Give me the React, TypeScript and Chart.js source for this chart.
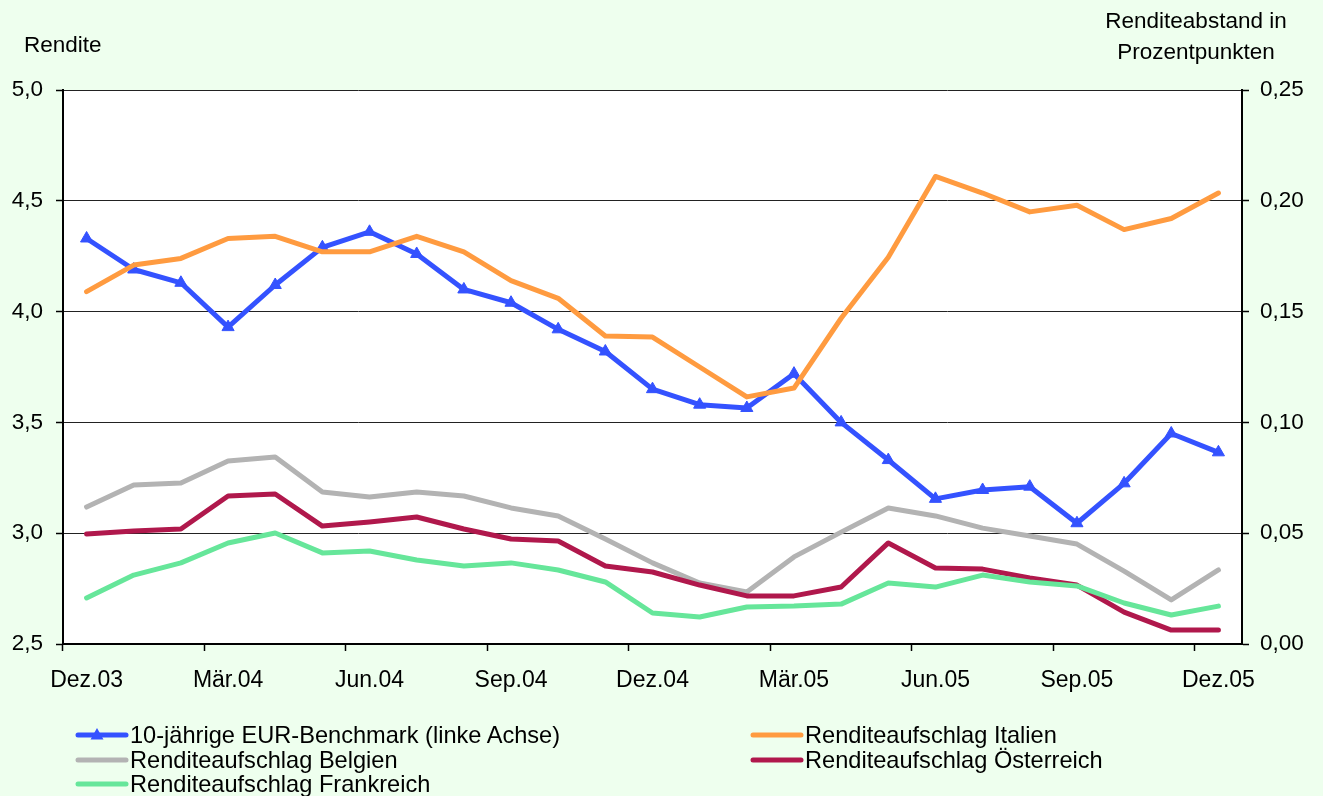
import React, { useEffect, useRef } from 'react';
import { Chart, registerables } from 'chart.js';

Chart.register(...registerables);

const months = [
  'Dez.03', 'Jan.04', 'Feb.04', 'Mär.04', 'Apr.04', 'Mai.04', 'Jun.04', 'Jul.04', 'Aug.04',
  'Sep.04', 'Okt.04', 'Nov.04', 'Dez.04', 'Jan.05', 'Feb.05', 'Mär.05', 'Apr.05', 'Mai.05',
  'Jun.05', 'Jul.05', 'Aug.05', 'Sep.05', 'Okt.05', 'Nov.05', 'Dez.05',
];

const benchmark = [
  4.33, 4.19, 4.13, 3.93, 4.12, 4.29, 4.36, 4.26, 4.10, 4.04, 3.92, 3.82, 3.65,
  3.58, 3.565, 3.72, 3.50, 3.33, 3.155, 3.195, 3.21, 3.045, 3.225, 3.45, 3.365,
];
const italien = [
  0.159, 0.171, 0.174, 0.183, 0.184, 0.177, 0.177, 0.184, 0.177, 0.164, 0.156, 0.139, 0.1385,
  0.125, 0.1115, 0.1155, 0.147, 0.1745, 0.211, 0.2035, 0.195, 0.198, 0.187, 0.192, 0.2035,
];
const belgien = [
  0.0618, 0.0718, 0.0727, 0.0826, 0.0844, 0.0686, 0.0663, 0.0686, 0.0668, 0.0614, 0.0578, 0.0474, 0.0366,
  0.0275, 0.0235, 0.0393, 0.0505, 0.0614, 0.0578, 0.0523, 0.0487, 0.0451, 0.0329, 0.0199, 0.0334,
];
const oesterreich = [
  0.0496, 0.051, 0.0519, 0.0668, 0.0677, 0.0532, 0.0551, 0.0573, 0.0519, 0.0474, 0.0465, 0.0352, 0.0325,
  0.0266, 0.0217, 0.0217, 0.0257, 0.0456, 0.0343, 0.0338, 0.0298, 0.0266, 0.0144, 0.0063, 0.0063,
];
const frankreich = [
  0.0208, 0.0311, 0.0366, 0.0456, 0.0501, 0.0411, 0.042, 0.0379, 0.0352, 0.0366, 0.0334, 0.028, 0.014,
  0.0122, 0.0167, 0.0171, 0.018, 0.0275, 0.0257, 0.0311, 0.028, 0.0262, 0.0185, 0.0131, 0.0171,
];

const seriesNames = [
  '10-jährige EUR-Benchmark (linke Achse)',
  'Renditeaufschlag Italien',
  'Renditeaufschlag Belgien',
  'Renditeaufschlag Österreich',
  'Renditeaufschlag Frankreich',
];

const leftAxisTitle = 'Rendite';
const rightAxisTitle = ['Renditeabstand in', 'Prozentpunkten'];

const BLUE = '#3452ff';
const ORANGE = '#ff9b40';
const GRAY = '#b3b3b3';
const RED = '#b0184c';
const GREEN = '#66e69a';
const BG = '#eeffee';
const FONT = '"Liberation Sans", Arial, sans-serif';
const FS = 22.5;
const LEGEND_FS = 23.6;

const whiteArea = {
  id: 'whiteArea',
  beforeDraw(chart: any) {
    const { ctx, chartArea } = chart;
    ctx.save();
    ctx.fillStyle = '#ffffff';
    ctx.fillRect(chartArea.left, chartArea.top, chartArea.right - chartArea.left, chartArea.bottom - chartArea.top);
    ctx.restore();
  },
};

function LegendItem(props: { label: string; color: string; marker?: boolean; x: number; y: number }) {
  const { label, color, marker, x, y } = props;
  return (
    <>
      <svg
        width={54}
        height={18}
        style={{ position: 'absolute', left: x - 2, top: y - 9 }}
      >
        <line x1={3} y1={9} x2={51} y2={9} stroke={color} strokeWidth={5} strokeLinecap="round" />
        {marker ? <polygon points="22,2 28.5,13.5 15.5,13.5" fill={color} /> : null}
      </svg>
      <div
        style={{
          position: 'absolute',
          left: x + 53,
          top: y - 12,
          fontFamily: FONT,
          fontSize: LEGEND_FS,
          lineHeight: '24px',
          whiteSpace: 'nowrap',
          color: '#000',
        }}
      >
        {label}
      </div>
    </>
  );
}

export default function App() {
  const ref = useRef<HTMLCanvasElement>(null);

  useEffect(() => {
    const canvas = ref.current;
    if (!canvas) return;
    const font = { family: FONT, size: FS };
    const chart = new Chart(canvas, {
      type: 'line',
      data: {
        labels: months,
        datasets: [
          {
            label: seriesNames[0], data: benchmark, yAxisID: 'y', borderColor: BLUE, backgroundColor: BLUE,
            borderWidth: 5, pointStyle: 'triangle', pointRadius: 7, pointBorderWidth: 1,
            pointBackgroundColor: BLUE, pointBorderColor: BLUE, order: 5, tension: 0,
          },
          {
            label: seriesNames[1], data: italien, yAxisID: 'y1', borderColor: ORANGE, backgroundColor: ORANGE,
            borderWidth: 5, pointRadius: 0, order: 4, tension: 0,
          },
          {
            label: seriesNames[2], data: belgien, yAxisID: 'y1', borderColor: GRAY, backgroundColor: GRAY,
            borderWidth: 5, pointRadius: 0, order: 3, tension: 0,
          },
          {
            label: seriesNames[3], data: oesterreich, yAxisID: 'y1', borderColor: RED, backgroundColor: RED,
            borderWidth: 5, pointRadius: 0, order: 2, tension: 0,
          },
          {
            label: seriesNames[4], data: frankreich, yAxisID: 'y1', borderColor: GREEN, backgroundColor: GREEN,
            borderWidth: 5, pointRadius: 0, order: 1, tension: 0,
          },
        ] as any,
      },
      options: {
        responsive: false,
        animation: false,
        devicePixelRatio: 1,
        layout: { padding: { top: 90, left: 0, right: 0, bottom: 0 } },
        elements: { line: { borderCapStyle: 'round', borderJoinStyle: 'round' } },
        plugins: { legend: { display: false }, tooltip: { enabled: false } },
        scales: {
          x: {
            type: 'category',
            offset: true,
            grid: {
              offset: true,
              drawOnChartArea: false,
              tickLength: 7,
              tickWidth: 1.5,
              tickColor: (c: any) => (c.index !== undefined && c.type === 'tick' && c.index % 3 === 0 ? '#000' : 'rgba(0,0,0,0)'),
            },
            border: { color: '#000', width: 2 },
            ticks: {
              autoSkip: false, maxRotation: 0, minRotation: 0, color: '#000',
              font: { family: FONT, size: 23 }, padding: 16,
              callback: (_v: any, i: number) => (i % 3 === 0 ? months[i] : ''),
            },
            afterFit: (s: any) => { s.height = 152; },
          },
          y: {
            position: 'left',
            min: 2.5,
            max: 5,
            ticks: {
              stepSize: 0.5, color: '#000', font, padding: 13,
              callback: (v: any) => Number(v).toFixed(1).replace('.', ','),
            },
            grid: { color: '#222', lineWidth: 1, tickLength: 7, tickColor: '#000', tickWidth: 1.5 },
            border: { color: '#000', width: 2 },
            afterFit: (s: any) => { s.width = 63; },
          },
          y1: {
            position: 'right',
            min: 0,
            max: 0.25,
            ticks: {
              stepSize: 0.05, color: '#000', font, padding: 11,
              callback: (v: any) => Number(v).toFixed(2).replace('.', ','),
            },
            grid: { drawOnChartArea: false, tickLength: 7, tickColor: '#000', tickWidth: 1.5 },
            border: { color: '#000', width: 2 },
            afterFit: (s: any) => { s.width = 81; },
          },
        },
      } as any,
      plugins: [whiteArea],
    });
    return () => chart.destroy();
  }, []);

  return (
    <div style={{ position: 'fixed', left: 0, top: 0, width: 1323, height: 796, background: BG, overflow: 'hidden' }}>
      <canvas ref={ref} width={1323} height={796} style={{ position: 'absolute', left: 0, top: 0 }} />
      <div style={{ position: 'absolute', left: 24, top: 33, fontFamily: FONT, fontSize: FS, lineHeight: '24px', color: '#000' }}>
        {leftAxisTitle}
      </div>
      <div
        style={{
          position: 'absolute', left: 1096, top: 5, width: 200, textAlign: 'center',
          fontFamily: FONT, fontSize: FS, lineHeight: '31px', color: '#000',
        }}
      >
        {rightAxisTitle[0]}
        <br />
        {rightAxisTitle[1]}
      </div>
      <LegendItem label={seriesNames[0]} color={BLUE} marker x={77} y={735} />
      <LegendItem label={seriesNames[1]} color={ORANGE} x={752} y={735} />
      <LegendItem label={seriesNames[2]} color={GRAY} x={77} y={760} />
      <LegendItem label={seriesNames[3]} color={RED} x={752} y={760} />
      <LegendItem label={seriesNames[4]} color={GREEN} x={77} y={784} />
    </div>
  );
}
